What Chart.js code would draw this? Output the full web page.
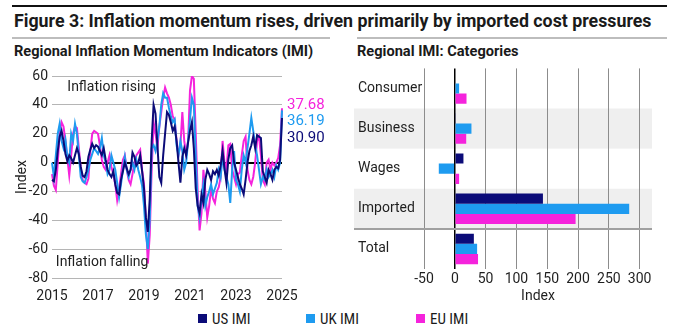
<!DOCTYPE html>
<html>
<head>
<meta charset="utf-8">
<script src="https://cdn.jsdelivr.net/npm/chart.js@4.4.1/dist/chart.umd.min.js"></script>
<style>
  body { margin: 0; background: #fff; font-family: Roboto, "Noto Sans", sans-serif; color: #1a1a1a; }
  #page { position: relative; width: 677px; height: 334px; overflow: hidden; }
  .rule { position: absolute; height: 2px; }
  h1 { position: absolute; left: 14px; top: 11px; margin: 0; font-size: 17.8px; line-height: 20px; font-weight: 700; white-space: nowrap; }
  h2 { position: absolute; top: 43px; margin: 0; font-size: 14.6px; line-height: 17px; font-weight: 700; white-space: nowrap; }
  .chart { position: absolute; top: 60px; }
  #legend { position: absolute; top: 311px; left: 0; width: 677px; height: 16px; font-family: "Liberation Sans Narrow", "Roboto Condensed", Roboto, sans-serif; font-size: 15px; }
  #legend span { position: absolute; top: 0; line-height: 16px; }
  #legend i { position: absolute; top: 3px; width: 9px; height: 9px; }
</style>
</head>
<body>
<div id="page">
  <div class="rule" style="left:12px; width:655px; top:5px; background:#111;"></div>
  <h1>Figure 3: Inflation momentum rises, driven primarily by imported cost pressures</h1>
  <div class="rule" style="left:12px; width:318px; top:37px; background:#bdbdbd;"></div>
  <div class="rule" style="left:357px; width:310px; top:37px; background:#bdbdbd;"></div>
  <h2 style="left:14px;">Regional Inflation Momentum Indicators (IMI)</h2>
  <h2 style="left:357px;">Regional IMI: Categories</h2>
  <div class="chart" style="left:0; width:340px; height:245px;"><canvas id="imiLine"></canvas></div>
  <div class="chart" style="left:340px; width:337px; height:245px;"><canvas id="imiBars"></canvas></div>
  <div id="legend"></div>
</div>
<script>
// monthly momentum index, Jan 2015 .. Jan 2025
const usIMI = [
  -12, -13, -5, 8, 18, 22, 15, 6, 1, 5, 3, 0,
  5, 10, 6, -3, -9, -10, -6, 4, 9, 13, 10, 12,
  11, 8, 5, 10, 2, -5, -8, -10, -6, -15, -21, -22,
  -12, -6, 0, -4, -8, -5, 7, 4, -2, 0, 5, -6,
  -18, -38, -48, -25, 15, 40, 34, 12, -10, -14, 5, 20,
  35, 33, 28, 22, 25, 15, 0, -14, 4, 10, 5, 14,
  22, 28, 10, -18, -30, -35, -22, -28, -12, -5, -8, -12,
  -6, -8, -5, -9, -2, 8, -4, -14, 2, 10, 12, 0,
  -5, -10, -15, -18, -22, -12, 0, 8, 12, 18, 10, 19,
  18, 17, -6, -10, -14, -5, -8, -12, -5, -3, -4, 2,
  30.90
];
const ukIMI = [
  0, -10, 5, 20, 27, 15, 10, 16, 4, 0, 20, 15,
  27, 20, 5, -10, -13, -14, -10, -5, 2, 6, 10, 8,
  6, 10, 17, 5, 0, -8, -5, 5, 0, -5, -14, -24,
  -15, -5, 4, -5, -10, -5, 0, -5, 2, -5, -10, -16,
  -30, -50, -60, -40, 10, 12, 8, 15, 25, 40, 48, 45,
  45, 38, 32, 28, 30, 12, 5, 15, 8, -5, 0, 15,
  30, 45, 40, 5, -30, -38, -25, -15, -30, -24, -20, -15,
  -22, -18, -14, -5, -10, 5, -5, -10, -15, -28, -5, 8,
  -12, -15, -20, -5, 5, 0, 10, 20, 31, 22, 12, 5,
  -5, -15, -10, -12, -5, -10, -8, -5, -10, -2, -5, 0,
  36.19
];
const euIMI = [
  -8, -16, -19, 0, 20, 28, 25, 15, 3, -9, 5, 20,
  25, 24, 10, -4, -12, -14, -15, -11, 8, 20, 22, 21,
  20, 12, 2, -3, -5, 0, 5, -3, -8, -15, -26, -18,
  -8, 2, 5, -5, -12, -15, -8, 0, 5, 7, 9, -5,
  -15, -40, -70, -50, -5, 28, 20, 10, 25, 35, 45, 52,
  48, 45, 40, 32, 30, 15, 5, 12, 35, 15, 5, 15,
  50, 60, 58, 20, -20, -47, -35, -5, -20, -38, -30, -18,
  -25, -28, -20, -17, -10, 15, 0, -5, 12, 13, -5, -10,
  -15, -8, -7, 5, 15, 18, -5, -12, -15, -10, 0, 15,
  18, 5, -12, -15, 0, 2, -5, 0, -2, 0, 3, 12,
  37.68
];

// category breakdown (latest reading)
const categories = ['Consumer', 'Business', 'Wages', 'Imported', 'Total'];
const usCat = [0, 1.5, 14, 143, 30.90];
const ukCat = [7, 27, -26, 283, 36.19];
const euCat = [19, 18.5, 7, 196, 37.68];
const barTicks = [-50, 0, 50, 100, 150, 200, 250, 300];

const seriesNames = ['US IMI', 'UK IMI', 'EU IMI'];
const colors = ['#0b0b78', '#1e9bf0', '#f523dc'];
const textColor = '#1f1f1f';

const months = [];
for (let y = 2015; y <= 2025; y++) {
  for (let m = 1; m <= 12; m++) {
    if (y === 2025 && m > 1) break;
    months.push(y + '-' + String(m).padStart(2, '0'));
  }
}

Chart.defaults.font.family = 'Roboto, "Noto Sans", sans-serif';
Chart.defaults.font.size = 14;
Chart.defaults.color = textColor;
Chart.defaults.animation = false;

// legend shared by both panels
const legendX = [198, 306, 416];
document.getElementById('legend').innerHTML = seriesNames.map((n, i) =>
  '<i style="left:' + legendX[i] + 'px;background:' + colors[i] + '"></i>' +
  '<span style="left:' + (legendX[i] + 14) + 'px">' + n + '</span>').join('');

// text notes and latest-value labels on the line panel
const lineNotes = {
  id: 'lineNotes',
  afterDatasetsDraw(chart) {
    const { ctx, scales: { x, y } } = chart;
    ctx.save();
    ctx.font = '14px Roboto, sans-serif';
    ctx.textBaseline = 'middle';
    ctx.textAlign = 'left';
    ctx.fillStyle = textColor;
    ctx.fillText('Inflation rising', x.getPixelForValue(8), y.getPixelForValue(52));
    ctx.fillText('Inflation falling', x.getPixelForValue(2), y.getPixelForValue(-69));

    ctx.font = '15px Roboto, sans-serif';
    const last = chart.data.datasets.map((d, i) => ({ v: d.data[d.data.length - 1], c: colors[i] }))
      .sort((a, b) => b.v - a.v);
    let prev = -Infinity;
    last.forEach((p, k) => {
      let py = y.getPixelForValue(p.v) - (k === 0 ? 3 : 0);
      py = Math.max(py, prev + 16.5);
      prev = py;
      ctx.fillStyle = p.c;
      ctx.fillText(p.v.toFixed(2), chart.chartArea.right + 5, py);
    });
    ctx.restore();
  }
};

new Chart(document.getElementById('imiLine'), {
  type: 'line',
  data: {
    labels: months,
    datasets: [usIMI, ukIMI, euIMI].map((d, i) => ({
      label: seriesNames[i],
      data: d,
      borderColor: colors[i],
      backgroundColor: colors[i],
      borderWidth: 2,
      pointRadius: 0,
      tension: 0
    }))
  },
  options: {
    responsive: true,
    maintainAspectRatio: false,
    layout: { padding: { left: 0, top: 16, right: 58, bottom: 0 } },
    plugins: { legend: { display: false }, tooltip: { enabled: false } },
    scales: {
      x: {
        type: 'category',
        offset: false,
        grid: { display: false },
        border: { display: false },
        afterFit: (s) => { s.height = 27; },
        ticks: {
          autoSkip: false,
          maxRotation: 0,
          padding: 2,
          callback: (v, i) => (i % 24 === 0 ? months[i].slice(0, 4) : null)
        }
      },
      y: {
        min: -80,
        max: 60,
        afterFit: (s) => { s.width = 52; },
        border: { display: false },
        grid: {
          drawTicks: false,
          color: (c) => (c.tick.value === 0 ? '#000' : '#b5b5b5'),
          lineWidth: (c) => (c.tick.value === 0 ? 2 : 1)
        },
        ticks: { stepSize: 20, padding: 4 },
        title: { display: true, text: 'Index', padding: { top: 14, bottom: 0 } }
      }
    }
  },
  plugins: [lineNotes]
});

// shaded rows and the rule above the total row
const rowBands = {
  id: 'rowBands',
  beforeDraw(chart) {
    const { ctx, chartArea, scales: { y } } = chart;
    const h = (chartArea.bottom - chartArea.top) / categories.length;
    ctx.save();
    ctx.fillStyle = '#efefef';
    ['Business', 'Imported'].forEach((name) => {
      const cy = y.getPixelForValue(categories.indexOf(name));
      ctx.fillRect(14, cy - h / 2, chartArea.right - 14, h);
    });
    ctx.restore();
  },
  beforeDatasetsDraw(chart) {
    const { ctx, chartArea, scales: { y } } = chart;
    const h = (chartArea.bottom - chartArea.top) / categories.length;
    const ly = y.getPixelForValue(categories.indexOf('Total')) - h / 2;
    ctx.save();
    ctx.strokeStyle = '#a0a0a0';
    ctx.lineWidth = 2;
    ctx.beginPath();
    ctx.moveTo(14, ly);
    ctx.lineTo(chartArea.right, ly);
    ctx.stroke();
    ctx.restore();
  }
};

new Chart(document.getElementById('imiBars'), {
  type: 'bar',
  data: {
    labels: categories,
    datasets: [usCat, ukCat, euCat].map((d, i) => ({
      label: seriesNames[i],
      data: d,
      backgroundColor: colors[i],
      borderWidth: 0,
      categoryPercentage: 0.76,
      barPercentage: 1
    }))
  },
  options: {
    indexAxis: 'y',
    responsive: true,
    maintainAspectRatio: false,
    layout: { padding: { left: 18, top: 4, right: 25, bottom: 0 } },
    plugins: { legend: { display: false }, tooltip: { enabled: false } },
    scales: {
      x: {
        min: -50,
        max: 320,
        afterFit: (s) => { s.height = 36; },
        afterBuildTicks: (s) => { s.ticks = barTicks.map((v) => ({ value: v })); },
        border: { display: false },
        grid: {
          drawTicks: false,
          color: (c) => (c.tick.value === 0 ? '#000' : '#8c8c8c'),
          lineWidth: (c) => (c.tick.value === 0 ? 1.5 : 1)
        },
        ticks: { padding: 2, maxRotation: 0 },
        title: { display: true, text: 'Index', padding: { top: 0, bottom: 0 } }
      },
      y: {
        afterFit: (s) => { s.width = 66; },
        grid: { display: false },
        border: { display: false },
        ticks: { crossAlign: 'far', padding: 0 }
      }
    }
  },
  plugins: [rowBands]
});
</script>
</body>
</html>
